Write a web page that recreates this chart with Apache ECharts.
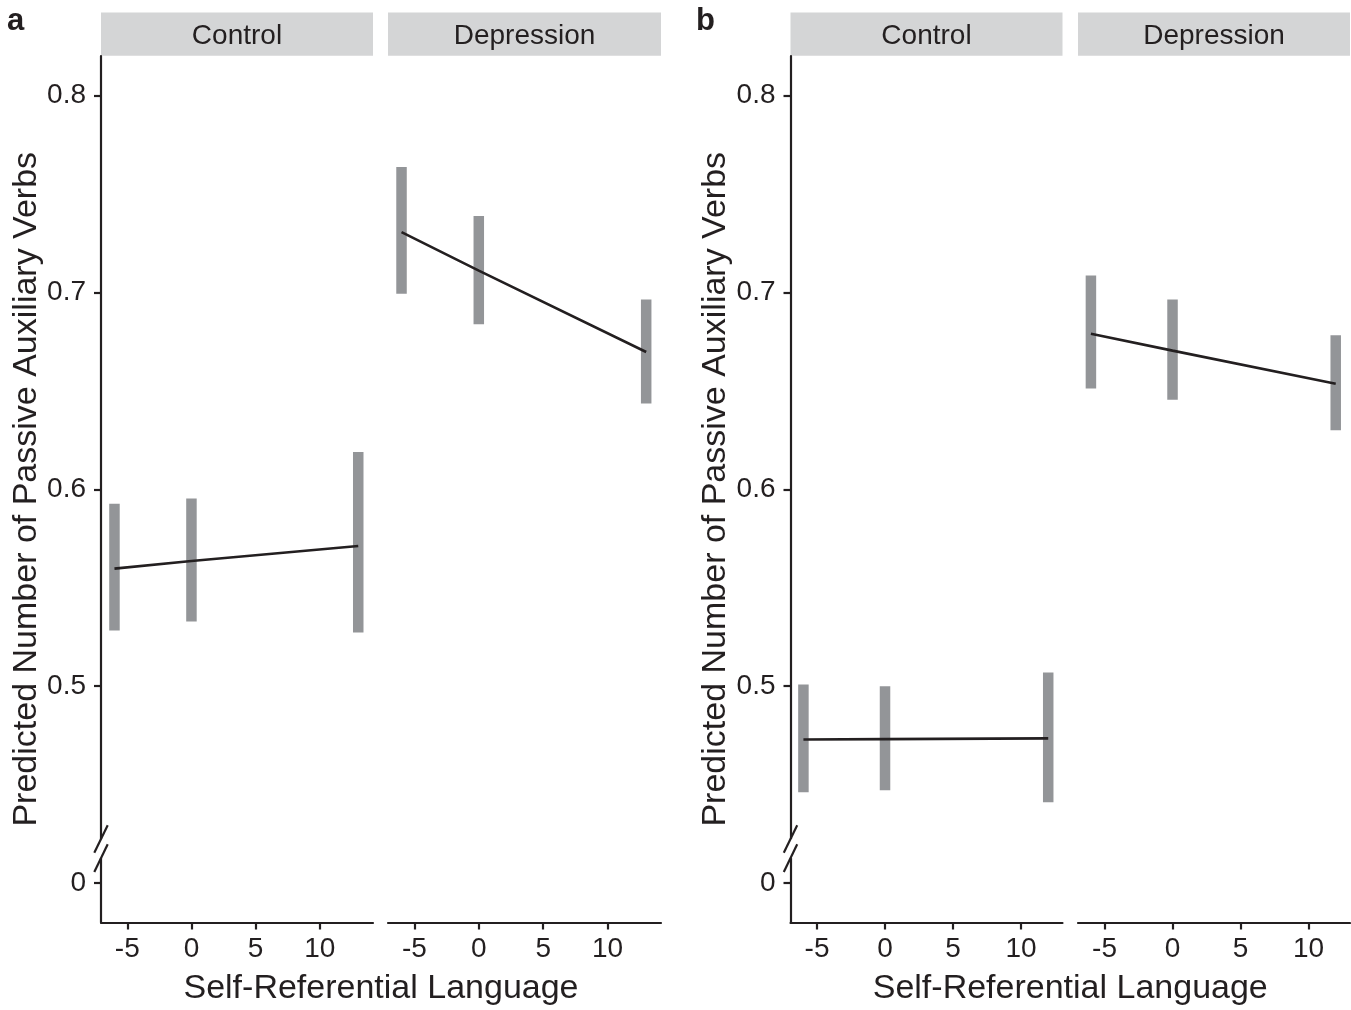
<!DOCTYPE html>
<html>
<head>
<meta charset="utf-8">
<script src="https://cdn.jsdelivr.net/npm/echarts@6/dist/echarts.min.js"></script>
<style>html,body{margin:0;padding:0;background:#fff}#c{width:1351px;height:1010px}</style>
</head>
<body>
<div id="c"></div>
<script>
// ---------- data ----------
const facets = ['Control', 'Depression'];
const panelLabels = ['a', 'b'];
const xTicks = [-5, 0, 5, 10];
const yTicks = [0.4, 0.5, 0.6, 0.7, 0.8];   // 0.4 is shown as "0" (broken axis)
const yTickLabels = ['0', '0.5', '0.6', '0.7', '0.8'];

// panel a
const xA = [-6, 0, 13];
const fitAControl = [0.5597, 0.5636, 0.5712];
const lowAControl = [0.5283, 0.5328, 0.5273];
const upAControl  = [0.5927, 0.5953, 0.6189];
const fitADep = [0.7306, 0.7110, 0.6697];
const lowADep = [0.6993, 0.6838, 0.6435];
const upADep  = [0.7636, 0.7387, 0.6964];

// panel b
const xB = [-6, 0, 12];
const fitBControl = [0.4729, 0.4731, 0.4735];
const lowBControl = [0.4462, 0.4471, 0.4411];
const upBControl  = [0.5009, 0.5000, 0.5070];
const fitBDep = [0.6790, 0.6704, 0.6536];
const lowBDep = [0.6511, 0.6455, 0.6299];
const upBDep  = [0.7086, 0.6964, 0.6782];

const yTitle = 'Predicted Number of Passive Auxiliary Verbs';
const xTitle = 'Self-Referential Language';

// ---------- layout / style ----------
const FONT = 'Liberation Sans, Arial, sans-serif';
const INK = '#231f20';
const BAR = '#939598';
const STRIP = '#d4d5d6';
const gridTop = 56, gridBottomPx = 922.5;
const grids = [
  {left: 101, width: 272, xMin: -7.05, xMax: 14.15, x: xA, fit: fitAControl, lo: lowAControl, hi: upAControl, showY: true},
  {left: 388, width: 273, xMin: -7.05, xMax: 14.15, x: xA, fit: fitADep, lo: lowADep, hi: upADep, showY: false},
  {left: 790.5, width: 272, xMin: -6.95, xMax: 13.05, x: xB, fit: fitBControl, lo: lowBControl, hi: upBControl, showY: true},
  {left: 1078, width: 272, xMin: -6.95, xMax: 13.05, x: xB, fit: fitBDep, lo: lowBDep, hi: upBDep, showY: false}
];
const yMin = 0.38, yMax = 0.82;

const chart = echarts.init(document.getElementById('c'), null, {renderer: 'canvas'});

const option = {
  backgroundColor: '#fff',
  animation: false,
  grid: grids.map(g => ({left: g.left, width: g.width, top: gridTop, height: gridBottomPx - gridTop, containLabel: false})),
  xAxis: grids.map((g, i) => ({
    type: 'value', gridIndex: i, min: g.xMin, max: g.xMax,
    axisLine: {show: true, onZero: false, lineStyle: {color: INK, width: 2.2}},
    axisTick: {show: true, length: 7, customValues: xTicks, lineStyle: {color: INK, width: 2.2}},
    axisLabel: {customValues: xTicks, fontSize: 28, fontFamily: FONT, color: INK, margin: 13,
      formatter: v => String(v)},
    splitLine: {show: false}
  })),
  yAxis: grids.map((g, i) => ({
    type: 'value', gridIndex: i, min: yMin, max: yMax,
    axisLine: {show: g.showY, onZero: false, lineStyle: {color: INK, width: 2.2}},
    axisTick: {show: g.showY, length: 7, customValues: yTicks, lineStyle: {color: INK, width: 2.2}},
    axisLabel: {show: g.showY, customValues: yTicks, fontSize: 28, fontFamily: FONT, color: INK, margin: 15,
      formatter: v => {
        const k = yTicks.findIndex(t => Math.abs(t - v) < 1e-9);
        return k >= 0 ? yTickLabels[k] : '';
      }},
    splitLine: {show: false},
    name: g.showY ? yTitle : '',
    nameLocation: 'middle', nameGap: 57,
    nameTextStyle: {fontSize: 34, fontFamily: FONT, color: INK}
  })),
  series: []
};

grids.forEach((g, i) => {
  option.series.push({
    type: 'custom', xAxisIndex: i, yAxisIndex: i,
    data: g.x.map((x, k) => [x, g.lo[k], g.hi[k]]),
    encode: {x: 0, y: [1, 2]},
    renderItem: (params, api) => {
      const x = api.value(0);
      const p1 = api.coord([x, api.value(1)]);
      const p2 = api.coord([x, api.value(2)]);
      const w = 10.5;
      return {type: 'rect', shape: {x: p1[0] - w / 2, y: p2[1], width: w, height: p1[1] - p2[1]},
        style: {fill: BAR}};
    },
    z: 2
  });
  option.series.push({
    type: 'line', xAxisIndex: i, yAxisIndex: i,
    data: g.x.map((x, k) => [x, g.fit[k]]),
    symbol: 'none', lineStyle: {color: INK, width: 2.6}, z: 3
  });
});

chart.setOption(option);

// ---------- decorations: strips, titles, axis breaks ----------
const graphics = [];
grids.forEach((g, i) => {
  graphics.push({type: 'rect', shape: {x: g.left, y: 12.5, width: g.width, height: 43.2}, style: {fill: STRIP}, silent: true});
  graphics.push({type: 'text', x: g.left + g.width / 2, y: 36, style: {text: facets[i % 2], font: '28px ' + FONT, fill: INK, textAlign: 'center', textVerticalAlign: 'middle'}});
  if (g.showY) {
    const pHi = chart.convertToPixel({xAxisIndex: i, yAxisIndex: i}, [g.xMin, 0.4224]);
    const pLo = chart.convertToPixel({xAxisIndex: i, yAxisIndex: i}, [g.xMin, 0.4127]);
    const ax = pHi[0];
    graphics.push({type: 'rect', shape: {x: ax - 3, y: pHi[1], width: 6, height: pLo[1] - pHi[1]}, style: {fill: '#fff'}, z: 100});
    [pHi[1], pLo[1]].forEach(yc => {
      graphics.push({type: 'line', shape: {x1: ax - 6.7, y1: yc + 13.8, x2: ax + 6.7, y2: yc - 13.8}, style: {stroke: INK, lineWidth: 2.2}, z: 101});
    });
  }
});
[0, 2].forEach((gi, p) => {
  const gL = grids[gi], gR = grids[gi + 1];
  const cx = (gL.left + gR.left + gR.width) / 2;
  graphics.push({type: 'text', x: cx, y: 989, style: {text: xTitle, font: '34px ' + FONT, fill: INK, textAlign: 'center', textVerticalAlign: 'middle'}});
  graphics.push({type: 'text', x: gi === 0 ? 7 : 696, y: 21, style: {text: panelLabels[p], font: 'bold 31px ' + FONT, fill: INK, textAlign: 'left', textVerticalAlign: 'middle'}});
});
chart.setOption({graphic: graphics});
</script>
</body>
</html>
